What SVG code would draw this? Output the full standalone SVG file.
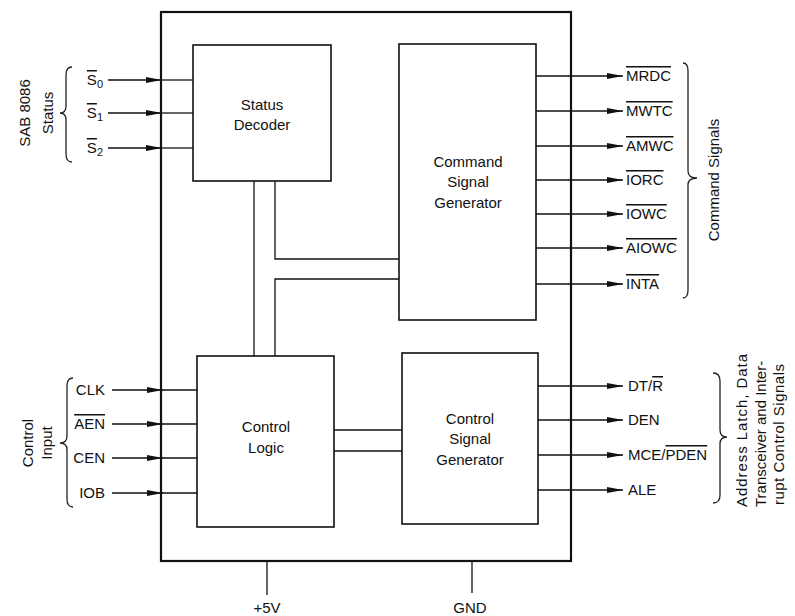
<svg xmlns="http://www.w3.org/2000/svg" width="795" height="616" viewBox="0 0 795 616">
<style>
  text { font-family: "Liberation Sans", Arial, sans-serif; font-size: 15px; fill: #111; }
  .c { text-anchor: middle; }
  .e { text-anchor: end; }
  .ov { text-decoration: overline; }
  .sub { font-size: 11px; }
  .box { fill: #fff; stroke: #111; stroke-width: 1.6; }
  .chip { fill: #fff; stroke: #111; stroke-width: 2.2; }
  .w { fill: none; stroke: #111; stroke-width: 1.3; }
  .brace { fill: none; stroke: #222; stroke-width: 1.3; }
</style>
<defs>
  <marker id="ah" markerUnits="userSpaceOnUse" markerWidth="16" markerHeight="7" refX="16" refY="3.5" orient="auto">
    <path d="M0,0.6 L16,3.5 L0,6.4 z" fill="#111"/>
  </marker>
</defs>

<g id="chip">
  <rect class="chip" x="161" y="12" width="410" height="549"/>
</g>

<g id="status-decoder">
  <rect class="box" x="193" y="45" width="138" height="136"/>
  <text class="c" x="262" y="110">Status</text>
  <text class="c" x="262" y="130">Decoder</text>
</g>

<g id="command-signal-generator">
  <rect class="box" x="399" y="44" width="137" height="276"/>
  <text class="c" x="468" y="167">Command</text>
  <text class="c" x="468" y="187">Signal</text>
  <text class="c" x="468" y="208">Generator</text>
</g>

<g id="control-logic">
  <rect class="box" x="197" y="356" width="137" height="171"/>
  <text class="c" x="266" y="432">Control</text>
  <text class="c" x="266" y="453">Logic</text>
</g>

<g id="control-signal-generator">
  <rect class="box" x="402" y="353" width="136" height="171"/>
  <text class="c" x="470" y="424">Control</text>
  <text class="c" x="470" y="444">Signal</text>
  <text class="c" x="470" y="465">Generator</text>
</g>

<g id="connectors">
  <!-- internal buses -->
  <path class="w" d="M254,181 V356"/>
  <path class="w" d="M275,181 V259 H399"/>
  <path class="w" d="M399,279 H275 V356"/>
  <path class="w" d="M334,430 H402"/>
  <path class="w" d="M334,451 H402"/>
  <!-- status inputs -->
  <path class="w" d="M108,80 H162" marker-end="url(#ah)"/>
  <path class="w" d="M161,80 H193"/>
  <path class="w" d="M108,113 H162" marker-end="url(#ah)"/>
  <path class="w" d="M161,113 H193"/>
  <path class="w" d="M108,148 H162" marker-end="url(#ah)"/>
  <path class="w" d="M161,148 H193"/>
  <!-- control inputs -->
  <path class="w" d="M112,390 H163" marker-end="url(#ah)"/>
  <path class="w" d="M161,390 H197"/>
  <path class="w" d="M112,424 H163" marker-end="url(#ah)"/>
  <path class="w" d="M161,424 H197"/>
  <path class="w" d="M112,458 H163" marker-end="url(#ah)"/>
  <path class="w" d="M161,458 H197"/>
  <path class="w" d="M112,493 H163" marker-end="url(#ah)"/>
  <path class="w" d="M161,493 H197"/>
  <!-- command outputs -->
  <path class="w" d="M536,76 H623" marker-end="url(#ah)"/>
  <path class="w" d="M536,111 H623" marker-end="url(#ah)"/>
  <path class="w" d="M536,146 H623" marker-end="url(#ah)"/>
  <path class="w" d="M536,180 H623" marker-end="url(#ah)"/>
  <path class="w" d="M536,214 H623" marker-end="url(#ah)"/>
  <path class="w" d="M536,248 H623" marker-end="url(#ah)"/>
  <path class="w" d="M536,284 H623" marker-end="url(#ah)"/>
  <!-- control outputs -->
  <path class="w" d="M538,386 H623" marker-end="url(#ah)"/>
  <path class="w" d="M538,420 H623" marker-end="url(#ah)"/>
  <path class="w" d="M538,455 H623" marker-end="url(#ah)"/>
  <path class="w" d="M538,490 H623" marker-end="url(#ah)"/>
  <!-- power -->
  <path class="w" d="M267,561 V595"/>
  <path class="w" d="M472,561 V593"/>
</g>

<g id="status-inputs">
  <text class="e" x="103" y="85"><tspan class="ov">S</tspan><tspan class="sub" dy="3">0</tspan></text>
  <text class="e" x="103" y="118"><tspan class="ov">S</tspan><tspan class="sub" dy="3">1</tspan></text>
  <text class="e" x="103" y="153"><tspan class="ov">S</tspan><tspan class="sub" dy="3">2</tspan></text>
  <path class="brace" d="M72,67 Q66,67 66,75 V106 Q66,113 60,113 Q66,113 66,120 V154 Q66,162 72,162"/>
  <text class="c" transform="translate(30,113) rotate(-90)">SAB 8086</text>
  <text class="c" transform="translate(53,113) rotate(-90)">Status</text>
</g>

<g id="control-inputs">
  <text class="e" x="105" y="395">CLK</text>
  <text class="e ov" x="105" y="429">AEN</text>
  <text class="e" x="105" y="463">CEN</text>
  <text class="e" x="105" y="498">IOB</text>
  <path class="brace" d="M73,378 Q67,378 67,386 V436 Q67,443 60,443 Q67,443 67,450 V499 Q67,507 73,507"/>
  <text class="c" transform="translate(33,443) rotate(-90)">Control</text>
  <text class="c" transform="translate(52,443) rotate(-90)">Input</text>
</g>

<g id="command-signals">
  <text class="ov" x="626" y="81">MRDC</text>
  <text class="ov" x="626" y="116">MWTC</text>
  <text class="ov" x="626" y="151">AMWC</text>
  <text class="ov" x="626" y="185">IORC</text>
  <text class="ov" x="626" y="219">IOWC</text>
  <text class="ov" x="626" y="253">AIOWC</text>
  <text class="ov" x="626" y="289">INTA</text>
  <path class="brace" d="M683,63 Q688,63 688,71 V171 Q688,178 697,178 Q688,178 688,185 V290 Q688,298 683,298"/>
  <text class="c" transform="translate(719,180) rotate(-90)">Command  Signals</text>
</g>

<g id="control-signals">
  <text x="628" y="391">DT/<tspan class="ov">R</tspan></text>
  <text x="628" y="425">DEN</text>
  <text x="628" y="460">MCE/<tspan class="ov">PDEN</tspan></text>
  <text x="628" y="495">ALE</text>
  <path class="brace" d="M713,373 Q720,373 720,381 V430 Q720,437 727,437 Q720,437 720,444 V495 Q720,503 713,503"/>
  <text transform="translate(747,507) rotate(-90)" textLength="153" lengthAdjust="spacing">Address Latch, Data</text>
  <text transform="translate(766,507) rotate(-90)">Transceiver and Inter-</text>
  <text transform="translate(784,505) rotate(-90)" textLength="141" lengthAdjust="spacing">rupt Control Signals</text>
</g>

<g id="power">
  <text class="c" x="267" y="613">+5V</text>
  <text class="c" x="470" y="613">GND</text>
</g>
</svg>
